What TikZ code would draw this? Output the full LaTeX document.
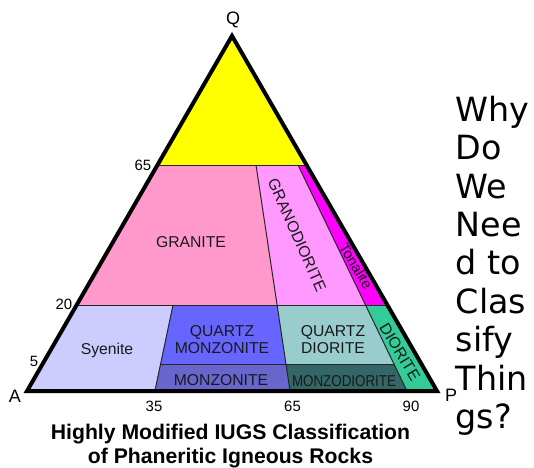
\documentclass[tikz,border=0pt]{standalone}
\usepackage{fontspec}
\setmainfont{Liberation Sans}
\newfontfamily\talkfont{DejaVu Sans}
\definecolor{quartzrich}{HTML}{FFFF00}
\definecolor{granitefill}{HTML}{FF99CC}
\definecolor{granodioritefill}{HTML}{FF99FF}
\definecolor{tonalitefill}{HTML}{FF00FF}
\definecolor{syenitefill}{HTML}{CCCCFF}
\definecolor{qmonzonitefill}{HTML}{6666FF}
\definecolor{qdioritefill}{HTML}{99CCCC}
\definecolor{dioritefill}{HTML}{33CC99}
\definecolor{monzonitefill}{HTML}{6666CC}
\definecolor{monzodioritefill}{HTML}{336666}
\begin{document}
\begin{tikzpicture}[x=0.75pt,y=-0.75pt,
  divider/.style={draw=black!85, line width=0.75pt},
  frame/.style={draw=black, line width=3pt, line join=miter},
  rocklabel/.style={font=\fontsize{11.8}{12.75}\selectfont, text=black!90, inner sep=0pt, align=center},
  basedlabel/.style={rocklabel, anchor=base},
  ticklabel/.style={font=\fontsize{11.2}{13}\selectfont, inner sep=0pt, anchor=base},
  cornerlabel/.style={font=\fontsize{13.5}{15}\selectfont, inner sep=0pt, anchor=base},
  captionline/.style={font=\fontsize{15.9}{18}\selectfont\bfseries, inner sep=0pt, anchor=base},
]
\useasboundingbox (0,0) rectangle (534,467);
\fill[white] (0,0) rectangle (534,467);

% corners of the ternary triangle (A left, P right, Q top)
\coordinate (A) at (27,391);
\coordinate (P) at (437,391);
\coordinate (Q) at (232,35.9);

% coloured fields, clipped to the triangle
\begin{scope}
  \clip (A) -- (P) -- (Q) -- cycle;
  \fill[quartzrich] (0,0) rectangle (534,165);
  \fill[granitefill] (0,165) -- (256,165) -- (277.06,305) -- (0,305) -- cycle;
  \fill[granodioritefill] (256,165) -- (298,165) -- (365.52,305) -- (277.06,305) -- cycle;
  \fill[tonalitefill] (298,165) -- (534,165) -- (534,305) -- (365.52,305) -- cycle;
  \fill[syenitefill] (0,305) -- (173,305) -- (155,391) -- (153,400) -- (0,400) -- cycle;
  \fill[qmonzonitefill] (173,305) -- (277.06,305) -- (285.94,364) -- (160.65,364) -- cycle;
  \fill[qdioritefill] (277.06,305) -- (365.52,305) -- (393.98,364) -- (285.94,364) -- cycle;
  \fill[dioritefill] (365.52,305) -- (534,305) -- (534,400) -- (411.3,400) -- (407,391) -- cycle;
  \fill[monzonitefill] (160.65,364) -- (285.94,364) -- (290,391) -- (291.4,400) -- (153,400) -- (155,391) -- cycle;
  \fill[monzodioritefill] (285.94,364) -- (393.98,364) -- (407,391) -- (411.3,400) -- (291.4,400) -- (290,391) -- cycle;

  % field boundaries
  \draw[divider] (0,165) -- (534,165);
  \draw[divider] (0,305) -- (534,305);
  \draw[divider] (160.65,364) -- (393.98,364);
  \draw[divider] (256,165) -- (291.4,400);
  \draw[divider] (298,165) -- (411.3,400);
  \draw[divider] (173,305) -- (153,400);
\end{scope}

\draw[frame] (A) -- (P) -- (Q) -- cycle;

% corner letters
\node[cornerlabel] (qlabel) at (233,25) {Q};
\node[cornerlabel] (alabel) at (15,402) {A};
\node[cornerlabel] (plabel) at (451,401) {P};

% scale values
\node[ticklabel, anchor=base east] (t65left) at (151.5,170) {65};
\node[ticklabel, anchor=base east] (t20) at (72.5,309) {20};
\node[ticklabel] (t5) at (34,366) {5};
\node[ticklabel] (t35) at (154,411) {35};
\node[ticklabel] (t65) at (292.5,411) {65};
\node[ticklabel] (t90) at (411,411) {90};

% rock names
\node[basedlabel] (granite) at (191,247) {GRANITE};
\node[rocklabel, rotate=-66] (granodiorite) at (297,235) {GRANODIORITE};
\node[rocklabel, rotate=-59, font=\fontsize{11}{12}\selectfont] (tonalite) at (356,266) {Tonalite};
\node[rocklabel] (qmonzonite) at (222,340) {QUARTZ\\MONZONITE};
\node[rocklabel] (qdiorite) at (333,340) {QUARTZ\\DIORITE};
\node[rocklabel, rotate=-59] (diorite) at (400,352) {DIORITE};
\node[basedlabel] (syenite) at (107,354) {Syenite};
\node[basedlabel] (monzonite) at (221,385) {MONZONITE};
\node[basedlabel] (monzodiorite) at (344,386) {\scalebox{0.85}[1]{MONZODIORITE}};

% caption
\node[captionline] (caption1) at (230.5,439) {Highly Modified IUGS Classification};
\node[captionline] (caption2) at (230.5,463) {of Phaneritic Igneous Rocks};

% question beside the diagram
\node[font=\talkfont\fontsize{25}{28.8}\selectfont, align=left, inner sep=0pt, anchor=north west]
  (question) at (455.5,95.7) {Why\\Do\\We\\Nee\\d to\\Clas\\sify\\Thin\\gs?};
\end{tikzpicture}
\end{document}
